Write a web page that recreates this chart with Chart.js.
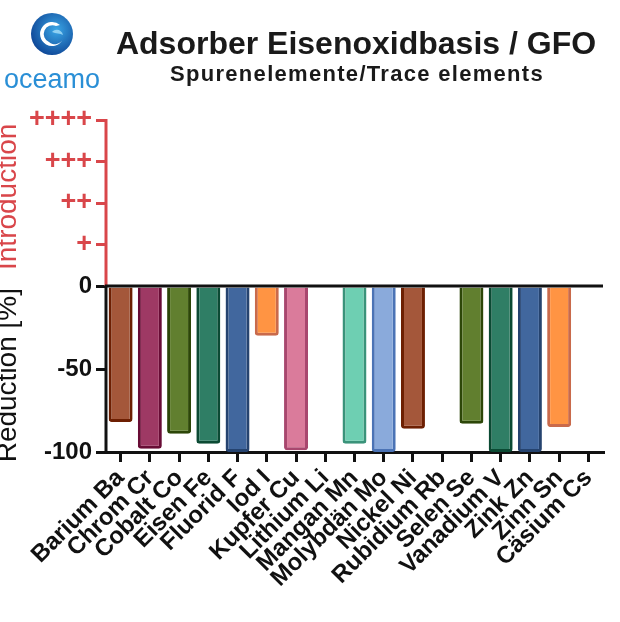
<!DOCTYPE html>
<html>
<head>
<meta charset="utf-8">
<script src="https://cdn.jsdelivr.net/npm/chart.js@4.4.1/dist/chart.umd.min.js"></script>
<style>
  body { margin: 0; background: #fff; }
  #wrap { position: relative; width: 620px; height: 622px; }
  #logo { position: absolute; left: 0; top: 12px; width: 104px; text-align: center; }
  #logo .name { font-family: "Liberation Sans", Arial, sans-serif; font-size: 27px; color: #2a8fd6; line-height: 27px; margin-top: 6px; }
  #title { position: absolute; left: 356px; top: 26px; transform: translateX(-50%); white-space: nowrap;
           font-family: "Liberation Sans", Arial, sans-serif; font-weight: bold; font-size: 32px; line-height: 34px; color: #1a1a1a; }
  #subtitle { position: absolute; left: 357px; top: 62px; transform: translateX(-50%); white-space: nowrap;
           font-family: "Liberation Sans", Arial, sans-serif; font-weight: bold; font-size: 22px; letter-spacing: 1.3px; line-height: 24px; color: #1a1a1a; }
  canvas { position: absolute; left: 0; top: 0; }
</style>
</head>
<body>
<div id="wrap">
  <canvas id="barChart" width="620" height="622"></canvas>
  <div id="logo">
    <svg width="44" height="44" viewBox="0 0 44 44">
      <defs>
        <radialGradient id="g" cx="0.6" cy="0.4" r="0.7">
          <stop offset="0" stop-color="#3aa6e6"/>
          <stop offset="1" stop-color="#0b3f91"/>
        </radialGradient>
      </defs>
      <circle cx="22" cy="22" r="21" fill="url(#g)"/>
      <path d="M30 13 A12 12 0 1 0 33 27 A9 9 0 0 1 19 30 A8 8 0 0 1 26 14 Z" fill="#fff"/>
      <path d="M22 20 C26 16 32 18 33 23 C30 21 26 22 22 20 Z" fill="#8fd0f2"/>
    </svg>
    <div class="name">oceamo</div>
  </div>
  <div id="title">Adsorber Eisenoxidbasis / GFO</div>
  <div id="subtitle">Spurenelemente/Trace elements</div>
</div>
<script>
// Spurenelemente
var elements = ["Barium Ba", "Chrom Cr", "Cobalt Co", "Eisen Fe", "Fluorid F", "Iod I", "Kupfer Cu",
    "Lithium Li", "Mangan Mn", "Molybdän Mo", "Nickel Ni", "Rubidium Rb", "Selen Se", "Vanadium V",
    "Zink Zn", "Zinn Sn", "Cäsium Cs"];
// Reduktion in %, null = kein Balken
var reduction = [-82, -98, -89, -95, -100, -30, -99, null, -95, -100, -86, null, -83, -100, -100, -85, null];
var yTicks = [-100, -50, 0, 25, 50, 75, 100];
var yTickLabels = ["-100", "-50", "0", "+", "++", "+++", "++++"];

var fillColors = ["#a4573a", "#9e3964", "#617f2f", "#2f7e65", "#41679e", "#ff9443", "#da7b9b",
    "#ffffff", "#6ecfb2", "#8aaadb", "#a4573a", "#ffffff", "#617f2f", "#2f7e65", "#41679e", "#ff9443", "#ffffff"];
var borderColors = ["#6d1f02", "#680c35", "#2c4608", "#0b4a33", "#25436f", "#c96a4b", "#a8476e",
    "#ffffff", "#3a937a", "#4b73b5", "#6d1f02", "#ffffff", "#2c4608", "#0b4a33", "#25436f", "#c96a4b", "#ffffff"];

var red = "#d9464a";
var font = "'Liberation Sans', Arial, sans-serif";

// Achsenlinien + Achsentitel
var axisPlugin = {
    id: 'axisPlugin',
    afterDatasetsDraw: function (chart) {
        var ctx = chart.ctx, a = chart.chartArea, y = chart.scales.y;
        var y0 = y.getPixelForValue(0);
        ctx.save();
        ctx.lineWidth = 3;
        ctx.strokeStyle = red;
        ctx.beginPath(); ctx.moveTo(a.left, a.top - 1); ctx.lineTo(a.left, y0); ctx.stroke();
        ctx.strokeStyle = "#111";
        ctx.beginPath(); ctx.moveTo(a.left, y0); ctx.lineTo(a.left, a.bottom + 1); ctx.stroke();
        ctx.beginPath(); ctx.moveTo(a.left - 1, y0); ctx.lineTo(a.right, y0); ctx.stroke();

        ctx.translate(16, 0);
        ctx.rotate(-Math.PI / 2);
        ctx.font = "28px " + font;
        ctx.textBaseline = "alphabetic";
        ctx.textAlign = "right";
        ctx.fillStyle = "#111";
        ctx.fillText("Reduction [%]", -288, 0);
        ctx.textAlign = "left";
        ctx.fillStyle = red;
        ctx.fillText("Introduction", -270, 0);
        ctx.restore();
    }
};

var ctxB = document.getElementById("barChart").getContext('2d');
var myBarChart = new Chart(ctxB, {
    type: 'bar',
    data: {
        labels: elements,
        datasets: [{
            data: reduction,
            backgroundColor: fillColors,
            borderColor: borderColors,
            borderWidth: 3,
            borderRadius: 3,
            borderSkipped: 'start',
            barPercentage: 0.82,
            categoryPercentage: 1.0
        }]
    },
    options: {
        responsive: false,
        animation: false,
        layout: { padding: { top: 120, right: 17, left: 0, bottom: 0 } },
        plugins: { legend: { display: false }, tooltip: { enabled: false } },
        scales: {
            x: {
                offset: true,
                afterFit: function (s) { s.height = 170; },
                border: { display: true, color: "#111", width: 3 },
                grid: { offset: false, drawOnChartArea: false, drawTicks: true, tickLength: 10, color: "#111", lineWidth: 3 },
                ticks: {
                    minRotation: 45, maxRotation: 45, autoSkip: false, padding: 2,
                    color: "#111", font: { family: font, size: 24, weight: 'bold' }
                }
            },
            y: {
                min: -100, max: 100,
                afterFit: function (s) { s.width = 106; },
                afterBuildTicks: function (s) { s.ticks = yTicks.map(function (v) { return { value: v }; }); },
                border: { display: false },
                grid: {
                    drawOnChartArea: false, drawTicks: true, tickLength: 10, lineWidth: 3,
                    color: function (c) { return c.tick && c.tick.value > 0 ? red : "#111"; }
                },
                ticks: {
                    padding: 4,
                    color: function (c) { return c.tick && c.tick.value > 0 ? red : "#111"; },
                    font: function (c) {
                        return { family: font, size: c.tick && c.tick.value > 0 ? 27 : 24, weight: 'bold' };
                    },
                    callback: function (v) { return yTickLabels[yTicks.indexOf(v)]; }
                }
            }
        }
    },
    plugins: [axisPlugin]
});
</script>
</body>
</html>
